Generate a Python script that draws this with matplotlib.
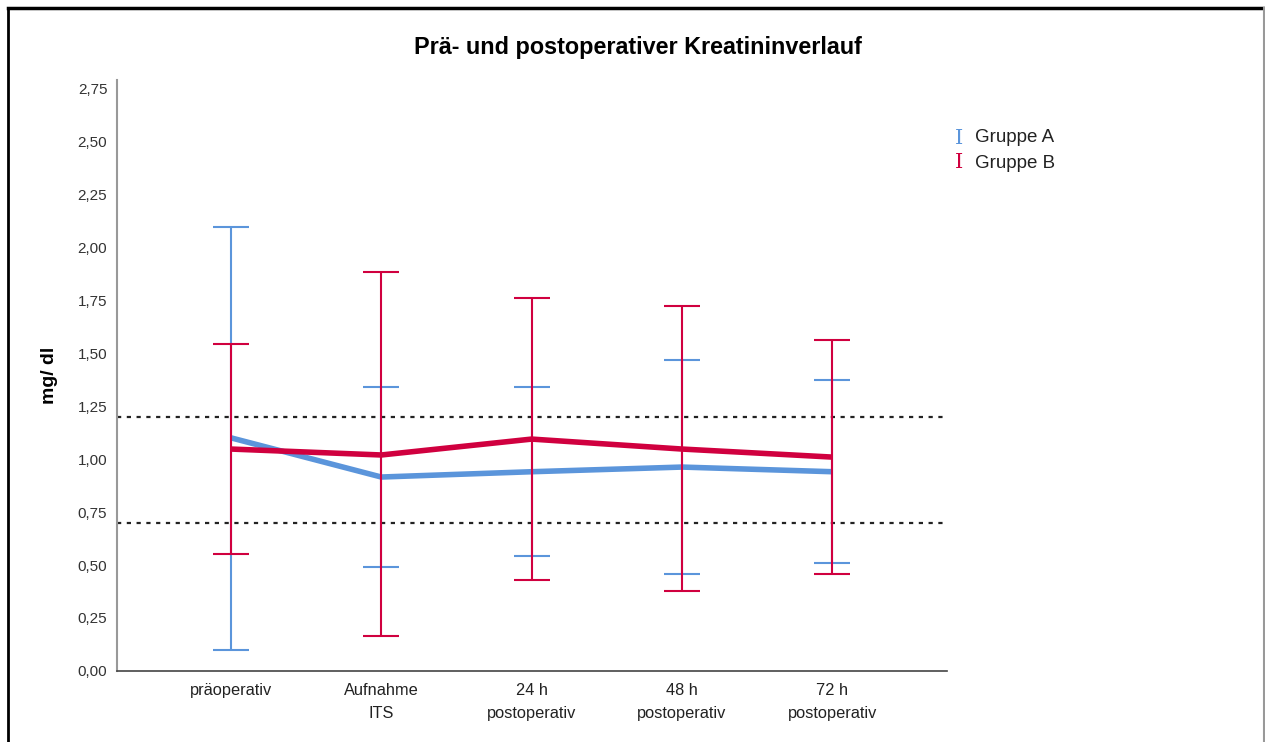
import numpy as np
import matplotlib.pyplot as plt
from matplotlib.lines import Line2D

plt.rcParams['font.family'] = ['Liberation Sans', 'DejaVu Sans']

# Daten
zeitpunkte = ["präoperativ", "Aufnahme\nITS", "24 h\npostoperativ", "48 h\npostoperativ", "72 h\npostoperativ"]
mittel_a = [1.10, 0.915, 0.94, 0.962, 0.94]
oben_a = [2.094, 1.34, 1.34, 1.465, 1.373]
unten_a = [0.099, 0.49, 0.542, 0.458, 0.51]
mittel_b = [1.047, 1.019, 1.094, 1.047, 1.009]
oben_b = [1.542, 1.882, 1.759, 1.722, 1.561]
unten_b = [0.552, 0.165, 0.429, 0.377, 0.458]
referenz = [1.2, 0.7]
yticks = [0, 0.25, 0.5, 0.75, 1.0, 1.25, 1.5, 1.75, 2.0, 2.25, 2.5, 2.75]
gruppen = ["Gruppe A", "Gruppe B"]

blau = "#5b95db"
rot = "#d0003f"

fig = plt.figure(figsize=(12.65, 7.42), dpi=100)
ax = fig.add_axes([0.0925, 0.0957, 0.6565, 0.7965])

x = np.arange(len(zeitpunkte))

def fehlerbalken(mittel, oben, unten, farbe):
    m = np.array(mittel)
    err = [m - np.array(unten), np.array(oben) - m]
    ax.errorbar(x, m, yerr=err, fmt="none", ecolor=farbe, elinewidth=1.5,
                capsize=13, capthick=1.5)

fehlerbalken(mittel_a, oben_a, unten_a, blau)
ax.plot(x, mittel_a, color=blau, lw=4, solid_capstyle="butt")
fehlerbalken(mittel_b, oben_b, unten_b, rot)
ax.plot(x, mittel_b, color=rot, lw=4, solid_capstyle="butt")

for r in referenz:
    ax.axhline(r, color="#222222", lw=1.6, linestyle=(0, (1.9, 2.5)), zorder=0.5)

ax.set_xlim(-0.757, 4.765)
ax.set_ylim(0, 2.788)
ax.set_yticks(yticks)
ax.set_yticklabels([f"{t:.2f}".replace(".", ",") for t in yticks], fontsize=11, color="#333333")
ax.set_xticks(x)
ax.set_xticklabels(zeitpunkte, fontsize=11.8, color="#222222", linespacing=1.6)
ax.tick_params(length=0, pad=9)
ax.tick_params(axis="y", pad=7)

ax.spines["top"].set_visible(False)
ax.spines["right"].set_visible(False)
ax.spines["left"].set_color("#999999")
ax.spines["left"].set_linewidth(1.5)
ax.spines["bottom"].set_color("#444444")
ax.spines["bottom"].set_linewidth(1.2)

ax.set_ylabel("mg/ dl", fontsize=14, fontweight="bold", labelpad=14)
fig.text(0.504, 0.936, "Prä- und postoperativer Kreatininverlauf", ha="center", va="center",
         fontsize=16.8, fontweight="bold")

# Legende
for i, (name, farbe) in enumerate(zip(gruppen, [blau, rot])):
    y = 1 - (138 + 25 * i) / 742
    fig.text(959 / 1265, y, "I", color=farbe, fontsize=15, family="DejaVu Serif",
             ha="center", va="center")
    fig.text(975 / 1265, y, name, color="#222222", fontsize=13.5, ha="left", va="center")

# Rahmen
fig.add_artist(Line2D([8 / 1265, 8 / 1265], [0, 1 - 8 / 742], color="black", lw=2, transform=fig.transFigure))
fig.add_artist(Line2D([8 / 1265, 1], [1 - 8 / 742, 1 - 8 / 742], color="black", lw=2.5, transform=fig.transFigure))
fig.add_artist(Line2D([1264 / 1265, 1264 / 1265], [0, 1 - 8 / 742], color="#999999", lw=1.5, transform=fig.transFigure))

fig.savefig("out.png", dpi=100)
